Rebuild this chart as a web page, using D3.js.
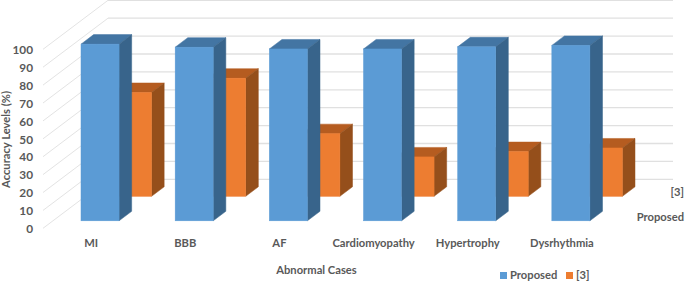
<!DOCTYPE html>
<html>
<head>
<meta charset="utf-8">
<script src="https://cdn.jsdelivr.net/npm/d3@7"></script>
<style>
  html, body { margin: 0; padding: 0; background: #fff; }
  svg { display: block; }
  text { font-family: Lato, "Open Sans", sans-serif; font-weight: 700; fill: #595959; }
</style>
</head>
<body>
<div id="chart"></div>
<script>
// Values
var categories = ['MI', 'BBB', 'AF', 'Cardiomyopathy', 'Hypertrophy', 'Dysrhythmia'];
var seriesNames = ['Proposed', '[3]'];
var proposed = [98.7, 97, 96, 96, 97.2, 98];
var ref3 = [58, 66, 35, 22, 25, 27];
var yTicks = [0, 10, 20, 30, 40, 50, 60, 70, 80, 90, 100];

var width = 685,
    height = 282,
    // The floor of the 3D box: front left corner and how far back it goes
    originX = 43,
    floorWidth = 565,
    depthX = 65,
    depthY = 49,
    labelSize = '11.2px';

var colors = {
  'Proposed': {front: '#5b9bd5', top: '#4375a3', side: '#38648b'},
  '[3]': {front: '#ed7d31', top: '#b55c20', side: '#954f1b'}
};

var x = d3.scaleBand().domain(categories).range([originX, originX + floorWidth])
  .paddingInner(0.596).paddingOuter(0.298);
var y = d3.scaleLinear().domain([0, 100]).range([228.3, 49.3]);
var z = d3.scaleBand().domain(seriesNames).range([0, depthY])
  .paddingInner(0.612).paddingOuter(0.306);

// Oblique projection, d is how far back from the front of the floor
function px(left, d) { return left + d * depthX / depthY; }
function py(value, d) { return y(value) - d; }

function pathOf(points) { return d3.line()(points); }

var svg = d3.select('#chart').append('svg')
  .attr('width', width)
  .attr('height', height);

// Gridlines on the side wall and the back wall
var grid = svg.append('g');
grid.selectAll('.side').data(yTicks).enter().append('line')
  .attr('x1', px(originX, 0))
  .attr('y1', function(t) { return py(t, 0); })
  .attr('x2', px(originX, depthY))
  .attr('y2', function(t) { return py(t, depthY); })
  .attr('stroke', '#e3e3e3')
  .attr('stroke-width', 1);
grid.selectAll('.back').data(yTicks).enter().append('line')
  .attr('x1', px(originX, depthY))
  .attr('y1', function(t) { return py(t, depthY); })
  .attr('x2', px(originX + floorWidth, depthY))
  .attr('y2', function(t) { return py(t, depthY); })
  .attr('stroke', '#e0e0e0')
  .attr('stroke-width', 1.3);

function drawSeries(name, values) {
  var c = colors[name],
      d0 = z(name),
      d1 = d0 + z.bandwidth(),
      w = x.bandwidth();
  var g = svg.append('g').selectAll('g')
    .data(values.map(function(v, i) { return {cat: categories[i], value: v}; }))
    .enter().append('g');

  // thin strokes in the face colour close the seams between faces
  g.append('path')
    .attr('fill', c.top)
    .attr('stroke', c.top)
    .attr('stroke-width', 0.5)
    .attr('d', function(p) {
      var l = x(p.cat);
      return pathOf([[px(l, d0), py(p.value, d0)], [px(l + w, d0), py(p.value, d0)],
                     [px(l + w, d1), py(p.value, d1)], [px(l, d1), py(p.value, d1)]]) + 'Z';
    });
  g.append('path')
    .attr('fill', c.side)
    .attr('stroke', c.side)
    .attr('stroke-width', 0.5)
    .attr('d', function(p) {
      var r = x(p.cat) + w;
      return pathOf([[px(r, d0), py(p.value, d0)], [px(r, d1), py(p.value, d1)],
                     [px(r, d1), py(0, d1)], [px(r, d0), py(0, d0)]]) + 'Z';
    });
  g.append('rect')
    .attr('fill', c.front)
    .attr('stroke', c.front)
    .attr('stroke-width', 0.5)
    .attr('x', function(p) { return px(x(p.cat), d0); })
    .attr('y', function(p) { return py(p.value, d0); })
    .attr('width', w)
    .attr('height', function(p) { return y(0) - y(p.value); });
}

// Back row first so the front row covers it
drawSeries('[3]', ref3);
drawSeries('Proposed', proposed);

// Value axis
var yAxis = svg.append('g')
  .attr('transform', 'translate(33,0.5)')
  .call(d3.axisLeft(y).tickValues(yTicks).tickSize(0).tickPadding(0));
yAxis.select('.domain').remove();
yAxis.selectAll('text').style('font-size', '11.8px').style('font-family', null);

// Category axis
var xAxis = svg.append('g')
  .attr('transform', 'translate(1,239)')
  .call(d3.axisBottom(x).tickSize(0).tickPadding(0));
xAxis.select('.domain').remove();
xAxis.selectAll('text').style('font-size', labelSize).attr('dy', '0.32em').attr('y', 4);

// Depth axis labels
svg.selectAll('.depth').data(seriesNames).enter().append('text')
  .attr('x', 684)
  .attr('y', function(s) { return py(0, z(s) + z.bandwidth() / 2) + 1; })
  .attr('dy', '0.32em')
  .attr('text-anchor', 'end')
  .style('font-size', labelSize)
  .text(function(s) { return s; });

// Axis titles
svg.append('text')
  .attr('x', 316.5).attr('y', 270)
  .attr('dy', '0.32em')
  .attr('text-anchor', 'middle')
  .style('font-size', labelSize)
  .text('Abnormal Cases');
svg.append('text')
  .attr('transform', 'translate(6,139.5) rotate(-90)')
  .attr('dy', '0.32em')
  .attr('text-anchor', 'middle')
  .style('font-size', labelSize)
  .text('Accuracy Levels (%)');

// Legend
var legendX = [500, 566];
var legend = svg.selectAll('.legend').data(seriesNames).enter().append('g')
  .attr('transform', function(s, i) { return 'translate(' + legendX[i] + ',272)'; });
legend.append('rect')
  .attr('width', 7).attr('height', 7)
  .attr('fill', function(s) { return colors[s].front; });
legend.append('text')
  .attr('x', 10).attr('y', 3.5)
  .attr('dy', '0.32em')
  .style('font-size', labelSize)
  .text(function(s) { return s; });
</script>
</body>
</html>
